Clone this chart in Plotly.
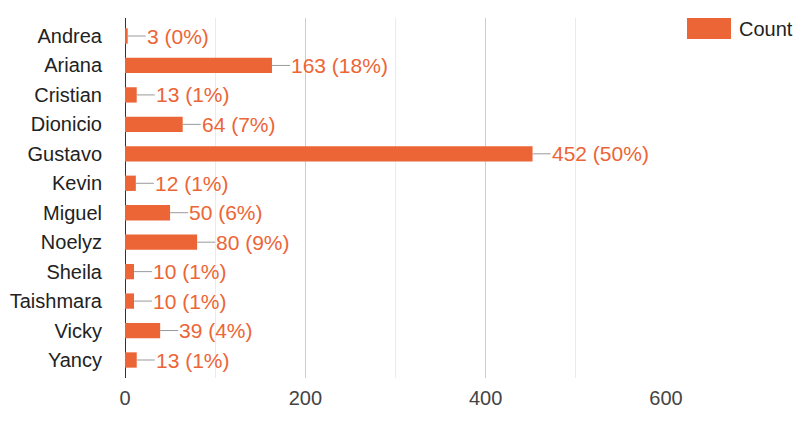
import plotly.graph_objects as go

names = ["Andrea", "Ariana", "Cristian", "Dionicio", "Gustavo", "Kevin",
         "Miguel", "Noelyz", "Sheila", "Taishmara", "Vicky", "Yancy"]
counts = [3, 163, 13, 64, 452, 12, 50, 80, 10, 10, 39, 13]
percents = [0, 18, 1, 7, 50, 1, 6, 9, 1, 1, 4, 1]
x_ticks = [0, 200, 400, 600]

ORANGE = "#EC6536"
FONT = "Liberation Sans, Arial, sans-serif"
LEADER = 20  # leader line length in data units

fig = go.Figure()
fig.add_trace(go.Bar(
    x=counts, y=names, orientation="h",
    marker=dict(color=ORANGE, line=dict(width=0)),
    name="Count", showlegend=False, hoverinfo="x+y",
))

lx, ly = [], []
for n, v in zip(names, counts):
    lx += [v, v + LEADER, None]
    ly += [n, n, None]
fig.add_trace(go.Scatter(x=lx, y=ly, mode="lines",
                         line=dict(color="#999999", width=1),
                         showlegend=False, hoverinfo="skip"))

for n, v, p in zip(names, counts, percents):
    fig.add_annotation(x=v + LEADER, y=n, text=f"{v} ({p}%)",
                       xanchor="left", yanchor="middle", showarrow=False,
                       xshift=-1, font=dict(family=FONT, size=21, color=ORANGE))

# legend drawn manually (Google-charts style)
fig.add_shape(type="rect", xref="paper", yref="paper",
              x0=(687 - 125) / 541, x1=(731 - 125) / 541,
              y0=(378 - 39) / 360, y1=(378 - 18) / 360,
              fillcolor=ORANGE, line=dict(width=0))
fig.add_annotation(xref="paper", yref="paper", x=(737 - 125) / 541,
                   y=(378 - 29) / 360, text="Count", showarrow=False,
                   xanchor="left", yanchor="middle",
                   font=dict(family=FONT, size=20, color="#222222"))

fig.update_layout(
    width=804, height=428,
    margin=dict(l=125, r=138, t=18, b=50, autoexpand=False),
    plot_bgcolor="white", paper_bgcolor="white",
    bargap=0.48,
    font=dict(family=FONT, size=20, color="#222222"),
    xaxis=dict(range=[0, 600], tickvals=x_ticks, showgrid=True, automargin=False,
               gridcolor="#cccccc", gridwidth=1,
               minor=dict(dtick=100, showgrid=True, gridcolor="#ebebeb", gridwidth=1),
               zeroline=True, zerolinecolor="#333333", zerolinewidth=1,
               showline=False, ticks="outside", ticklen=2, tickcolor="rgba(0,0,0,0)",
               tickfont=dict(family=FONT, size=20, color="#444444"), fixedrange=True),
    yaxis=dict(autorange="reversed", showgrid=False, showline=False, automargin=False,
               ticks="outside", ticklen=18, tickcolor="rgba(0,0,0,0)",
               tickfont=dict(family=FONT, size=20, color="#222222"), fixedrange=True),
)

fig.write_html("out.html", config={"displayModeBar": False},
               post_script="document.body.style.margin='0';document.body.style.overflow='hidden';")
